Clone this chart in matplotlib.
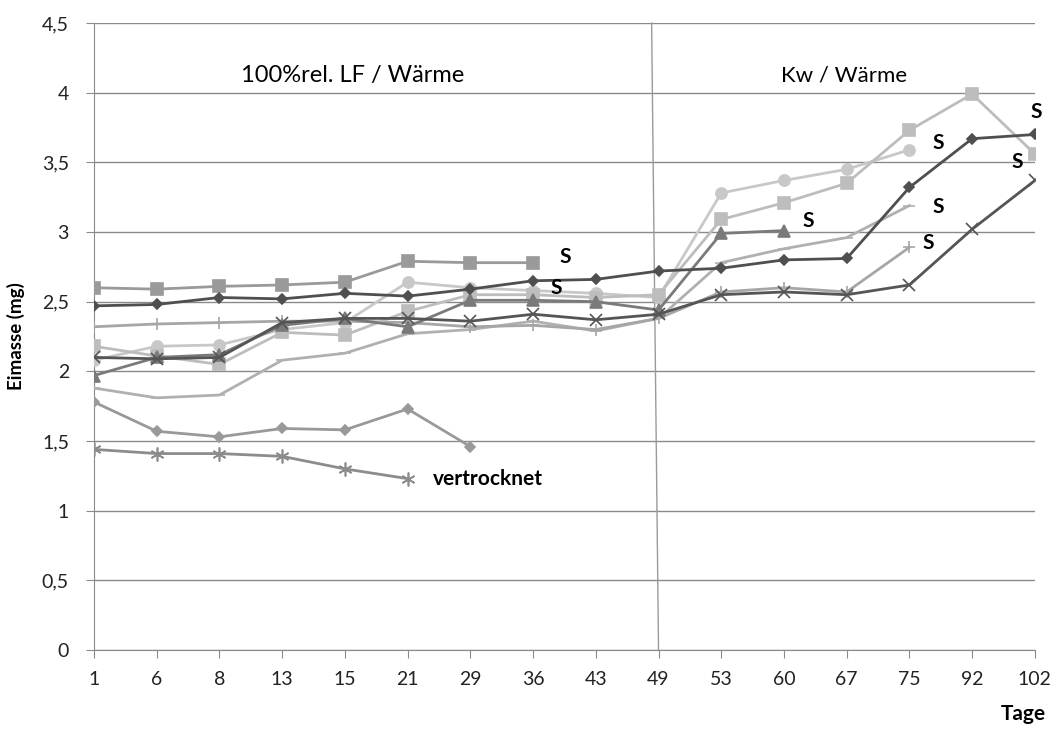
import matplotlib.pyplot as plt
from matplotlib.ticker import FuncFormatter

plt.rcParams['font.family'] = ['Lato', 'DejaVu Sans']

tage = ['1', '6', '8', '13', '15', '21', '29', '36', '43', '49',
        '53', '60', '67', '75', '92', '102']

# Eimasse (mg) je Serie
raute_dunkel = [2.47, 2.48, 2.53, 2.52, 2.56, 2.54, 2.59, 2.65, 2.66, 2.72,
                2.74, 2.80, 2.81, 3.32, 3.67, 3.70]
quadrat_mittel = [2.60, 2.59, 2.61, 2.62, 2.64, 2.79, 2.78, 2.78]
quadrat_hell = [2.18, 2.11, 2.05, 2.28, 2.26, 2.43, 2.55, 2.55, 2.53, 2.55,
                3.09, 3.21, 3.35, 3.73, 3.99, 3.56]
kreis_hell = [2.08, 2.18, 2.19, 2.30, 2.35, 2.64, 2.60, 2.58, 2.56, 2.53,
              3.28, 3.37, 3.45, 3.59]
dreieck = [1.97, 2.10, 2.12, 2.33, 2.38, 2.32, 2.51, 2.51, 2.50, 2.44,
           2.99, 3.01]
plus = [2.32, 2.34, 2.35, 2.36, 2.36, 2.35, 2.32, 2.33, 2.30, 2.38,
        2.57, 2.60, 2.57, 2.89]
strich = [1.88, 1.81, 1.83, 2.08, 2.13, 2.27, 2.30, 2.36, 2.29, 2.38,
          2.78, 2.88, 2.96, 3.19]
kreuz = [2.10, 2.09, 2.10, 2.35, 2.38, 2.38, 2.36, 2.41, 2.37, 2.41,
         2.55, 2.57, 2.55, 2.62, 3.02, 3.37]
raute_mittel = [1.78, 1.57, 1.53, 1.59, 1.58, 1.73, 1.46]
stern = [1.44, 1.41, 1.41, 1.39, 1.30, 1.23]

serien = [
    (strich, '#b0b0b0', '_', 9),
    (plus, '#a6a6a6', '+', 9),
    (kreis_hell, '#c8c8c8', 'o', 8),
    (quadrat_hell, '#bdbdbd', 's', 8),
    (dreieck, '#7a7a7a', '^', 8),
    (kreuz, '#555555', 'x', 8),
    (quadrat_mittel, '#9a9a9a', 's', 8),
    (raute_dunkel, '#4f4f4f', 'D', 5),
    (raute_mittel, '#999999', 'D', 5),
    (stern, '#8c8c8c', (6, 2, 0), 10),
]

fig = plt.figure(figsize=(10.56, 7.33), dpi=100)
ax = fig.add_axes([0.089, 0.1132, 0.891, 0.8554])

for werte, farbe, marker, ms in serien:
    x = list(range(len(werte)))
    ax.plot(x, werte, color=farbe, lw=2, marker=marker, markersize=ms,
            markeredgewidth=1.2, zorder=3)

ax.set_xlim(0, 15)
ax.set_ylim(0, 4.5)
ax.set_xticks(range(len(tage)))
ax.set_xticklabels(tage)
ax.set_yticks([i * 0.5 for i in range(10)])
ax.yaxis.set_major_formatter(FuncFormatter(lambda v, p: ('%g' % v).replace('.', ',')))
ax.grid(axis='y', color='#8a8a8a', lw=1)
ax.set_axisbelow(True)
for s in ['top', 'right']:
    ax.spines[s].set_visible(False)
ax.spines['left'].set_color('#8a8a8a')
ax.spines['bottom'].set_color('#8a8a8a')
ax.tick_params(colors='#8a8a8a', labelcolor='#222222', labelsize=14, length=6)
ax.tick_params(axis='y', pad=12)
ax.tick_params(axis='x', pad=9)

# Trennlinie zwischen den Versuchsphasen
ax.plot([8.89, 9.0], [4.5, 0], color='#9a9a9a', lw=1, zorder=2, clip_on=False)

ax.text(4.12, 4.12, '100%rel. LF / Wärme', fontsize=17, ha='center', va='center')
ax.text(11.95, 4.12, 'Kw / Wärme', fontsize=16, ha='center', va='center')

s_pos = [(7.51, 2.82), (7.37, 2.60), (11.39, 3.08), (13.46, 3.64),
         (13.46, 3.18), (13.30, 2.92), (15.02, 3.86), (14.72, 3.50)]
for xs, ys in s_pos:
    ax.text(xs, ys, 'S', fontsize=15, fontweight='bold', ha='center', va='center')
ax.text(5.41, 1.23, 'vertrocknet', fontsize=15, fontweight='bold', ha='left', va='center')

ax.set_ylabel('Eimasse (mg)', fontsize=13.5, fontweight='bold', labelpad=12)
fig.text(0.969, 0.012, 'Tage', fontsize=15, fontweight='bold', ha='center', va='bottom')

fig.savefig('out.png', dpi=100)
